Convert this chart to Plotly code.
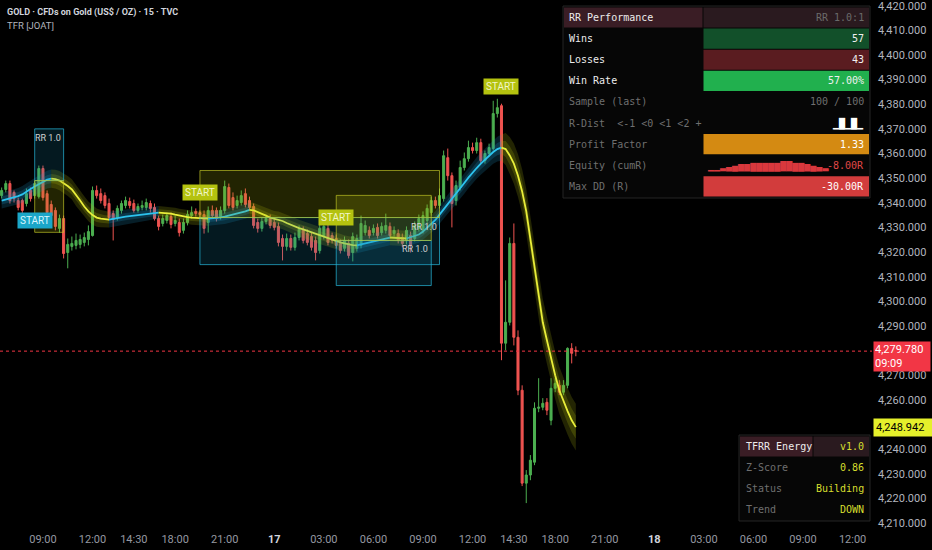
import pandas as pd
import plotly.graph_objects as go

# ---------------- values (GOLD, 15m, TVC) ----------------
first_bar = "2025-12-16 06:30"      # first bar on screen, session pause 17:00-18:00

opens = [
    4342.9, 4345.4, 4347.8, 4344.2, 4340.9, 4340.9, 4339.7, 4345.0, 4342.9, 4342.5,
    4353.9, 4343.7, 4339.3, 4336.9, 4329.6, 4333.6, 4319.8, 4322.3, 4322.7, 4323.1,
    4323.9, 4325.1, 4326.7, 4345.0, 4343.7, 4342.9, 4339.7, 4335.6, 4334.0, 4336.9,
    4338.9, 4340.5, 4339.7, 4336.9, 4338.1, 4338.1, 4339.7, 4338.1, 4333.6, 4331.6,
    4332.8, 4334.4, 4331.6, 4332.0, 4328.8, 4332.0, 4334.8, 4336.5, 4336.0, 4335.2,
    4332.0, 4336.9, 4336.9, 4334.4, 4336.9, 4346.2, 4342.1, 4338.9, 4340.1, 4343.7,
    4340.9, 4338.5, 4332.0, 4329.6, 4332.4, 4333.6, 4332.0, 4330.4, 4325.5, 4322.3,
    4325.5, 4321.9, 4325.9, 4329.2, 4327.5, 4326.3, 4324.7, 4320.6, 4326.3, 4329.6,
    4326.7, 4325.5, 4323.5, 4321.5, 4323.5, 4319.8, 4321.5, 4322.7, 4327.9, 4328.8,
    4327.9, 4330.0, 4327.9, 4328.8, 4330.4, 4327.5, 4327.5, 4325.9, 4324.7, 4326.7,
    4325.5, 4329.6, 4328.8, 4332.8, 4336.0, 4340.9, 4338.9, 4341.7, 4358.3, 4351.0,
    4340.9, 4346.2, 4354.3, 4357.9, 4362.4, 4361.2, 4364.4, 4357.1, 4360.0, 4362.0,
    4376.2, 4379.4, 4283.0, 4291.5, 4323.5, 4285.4, 4263.9, 4226.2, 4229.5, 4234.7,
    4256.6, 4257.0, 4259.0, 4251.7, 4264.7, 4265.9, 4263.1, 4265.9, 4280.9, 4280.1,
]
highs = [
    4346.2, 4349.0, 4349.0, 4345.0, 4342.1, 4341.7, 4345.8, 4346.2, 4349.0, 4355.1,
    4355.1, 4345.0, 4340.9, 4338.1, 4335.2, 4334.8, 4325.5, 4326.3, 4327.5, 4327.1,
    4327.9, 4330.8, 4346.6, 4347.0, 4345.8, 4344.2, 4341.7, 4336.9, 4338.9, 4340.9,
    4342.5, 4342.1, 4341.3, 4339.7, 4340.9, 4341.7, 4340.9, 4339.7, 4334.8, 4335.2,
    4336.0, 4336.0, 4334.8, 4333.6, 4333.6, 4336.9, 4338.5, 4337.7, 4336.9, 4336.9,
    4338.5, 4338.9, 4338.1, 4338.5, 4349.0, 4347.8, 4344.2, 4342.9, 4345.0, 4345.8,
    4342.5, 4339.7, 4333.6, 4334.0, 4335.2, 4335.2, 4333.6, 4332.0, 4327.1, 4327.5,
    4327.1, 4327.9, 4330.8, 4330.4, 4329.2, 4327.9, 4326.3, 4331.2, 4332.0, 4331.2,
    4327.9, 4327.1, 4325.1, 4326.3, 4325.1, 4327.9, 4327.1, 4334.8, 4332.8, 4330.4,
    4331.2, 4331.6, 4332.0, 4335.6, 4332.0, 4330.4, 4329.2, 4327.5, 4330.4, 4328.3,
    4332.4, 4335.2, 4336.5, 4339.3, 4342.5, 4342.5, 4345.8, 4361.2, 4362.0, 4352.3,
    4349.0, 4357.1, 4360.4, 4365.2, 4364.4, 4366.4, 4366.0, 4361.2, 4364.0, 4381.4,
    4382.2, 4380.2, 4308.5, 4325.9, 4331.6, 4288.2, 4265.9, 4231.5, 4237.6, 4259.0,
    4268.8, 4260.7, 4260.7, 4268.8, 4268.8, 4268.0, 4268.0, 4281.3, 4283.0, 4281.7,
]
lows = [
    4341.7, 4344.2, 4339.7, 4340.1, 4336.9, 4335.2, 4338.5, 4340.5, 4341.7, 4341.7,
    4340.9, 4334.8, 4333.6, 4328.8, 4327.9, 4317.4, 4313.4, 4320.6, 4321.1, 4321.5,
    4322.3, 4322.7, 4326.3, 4341.7, 4339.7, 4337.7, 4332.8, 4324.7, 4332.8, 4335.6,
    4337.7, 4337.7, 4336.0, 4336.0, 4336.9, 4336.9, 4336.0, 4332.8, 4328.8, 4330.4,
    4331.6, 4329.6, 4330.4, 4326.3, 4327.5, 4330.8, 4333.6, 4334.4, 4333.6, 4327.5,
    4327.9, 4333.6, 4332.4, 4333.2, 4335.6, 4337.7, 4336.9, 4337.7, 4338.9, 4338.1,
    4336.9, 4329.6, 4327.9, 4328.3, 4331.2, 4329.6, 4328.8, 4322.3, 4316.6, 4320.6,
    4320.6, 4320.6, 4324.7, 4323.5, 4322.7, 4320.6, 4316.6, 4319.4, 4325.1, 4322.7,
    4323.5, 4321.5, 4319.4, 4320.2, 4317.4, 4316.2, 4320.2, 4321.5, 4326.7, 4325.5,
    4326.7, 4325.5, 4326.7, 4327.5, 4325.5, 4326.3, 4323.5, 4321.9, 4323.1, 4319.8,
    4324.3, 4328.3, 4327.5, 4331.6, 4334.8, 4337.7, 4337.7, 4340.5, 4349.0, 4330.0,
    4338.9, 4345.0, 4353.1, 4356.7, 4360.0, 4360.0, 4355.9, 4355.9, 4358.7, 4361.2,
    4374.6, 4276.1, 4280.1, 4290.2, 4282.1, 4261.9, 4225.0, 4218.1, 4227.4, 4233.5,
    4255.0, 4255.8, 4253.8, 4249.7, 4263.1, 4261.9, 4261.9, 4264.7, 4274.8, 4277.7,
]
closes = [
    4345.0, 4347.8, 4340.9, 4341.7, 4338.1, 4336.9, 4343.7, 4341.7, 4347.8, 4353.9,
    4342.1, 4336.0, 4334.8, 4330.4, 4333.6, 4319.4, 4323.1, 4323.5, 4324.7, 4325.1,
    4325.9, 4328.3, 4345.0, 4342.9, 4340.9, 4338.9, 4334.0, 4333.2, 4337.7, 4339.7,
    4340.9, 4338.9, 4336.9, 4338.5, 4338.9, 4340.1, 4337.7, 4333.6, 4330.4, 4333.6,
    4334.8, 4331.2, 4332.8, 4327.9, 4332.0, 4335.2, 4336.0, 4335.6, 4335.2, 4329.6,
    4336.9, 4334.8, 4333.6, 4336.9, 4346.6, 4338.9, 4338.1, 4340.9, 4342.9, 4339.3,
    4338.1, 4330.8, 4329.6, 4332.4, 4333.6, 4330.8, 4330.0, 4323.9, 4322.3, 4325.5,
    4321.9, 4325.9, 4329.2, 4324.7, 4323.9, 4321.9, 4319.8, 4329.6, 4330.4, 4323.9,
    4324.7, 4322.7, 4320.6, 4324.7, 4318.6, 4326.3, 4325.5, 4331.6, 4330.8, 4326.7,
    4329.6, 4326.7, 4330.4, 4330.8, 4326.7, 4328.8, 4324.7, 4323.5, 4328.8, 4322.7,
    4330.8, 4333.6, 4334.8, 4337.7, 4340.9, 4338.9, 4342.9, 4359.1, 4351.0, 4339.7,
    4347.0, 4354.3, 4357.9, 4362.4, 4361.2, 4364.4, 4357.1, 4360.0, 4362.4, 4376.2,
    4378.6, 4283.0, 4291.5, 4323.5, 4285.4, 4263.9, 4226.2, 4229.5, 4235.5, 4256.6,
    4257.0, 4258.6, 4255.8, 4264.7, 4266.7, 4263.1, 4265.9, 4280.9, 4278.9, 4279.78,
]
# TFR trend filter line and its band half-width (price units)
trend = [
    4340.9, 4341.3, 4341.7, 4342.1, 4342.7, 4343.4, 4344.6, 4345.6, 4346.6, 4347.6,
    4348.6, 4349.4, 4349.8, 4349.6, 4349.0, 4348.0, 4346.8, 4345.4, 4342.9, 4340.9,
    4338.5, 4336.5, 4335.0, 4334.0, 4333.6, 4333.3, 4333.2, 4333.4, 4333.8, 4334.1,
    4334.4, 4334.6, 4334.8, 4335.1, 4335.3, 4335.5, 4335.7, 4335.9, 4336.0, 4335.9,
    4335.8, 4335.6, 4335.2, 4334.8, 4334.5, 4334.2, 4334.0, 4333.9, 4333.8, 4333.7,
    4333.6, 4333.7, 4333.9, 4334.1, 4334.4, 4334.8, 4335.2, 4335.6, 4335.9, 4336.5,
    4337.1, 4336.9, 4336.2, 4335.6, 4334.8, 4334.0, 4333.5, 4333.2, 4332.6, 4331.8,
    4331.0, 4330.4, 4329.7, 4329.2, 4328.6, 4328.0, 4327.3, 4326.7, 4326.1, 4325.5,
    4325.0, 4324.5, 4323.9, 4323.5, 4323.1, 4322.8, 4322.7, 4323.1, 4323.5, 4323.9,
    4324.3, 4324.7, 4325.1, 4325.5, 4325.9, 4325.8, 4325.7, 4325.6, 4325.5, 4326.0,
    4326.5, 4327.1, 4328.3, 4329.8, 4331.2, 4333.0, 4335.2, 4337.3, 4339.3, 4341.3,
    4343.5, 4345.8, 4348.0, 4350.2, 4352.3, 4354.1, 4355.9, 4357.5, 4359.2, 4360.6,
    4361.8, 4362.4, 4361.8, 4359.2, 4355.9, 4351.0, 4344.6, 4336.5, 4325.5, 4313.4,
    4301.6, 4291.5, 4284.2, 4276.9, 4270.0, 4263.9, 4259.4, 4255.4, 4251.7, 4248.942,
]
band = [
    3.2, 3.2, 3.3, 3.3, 3.3, 3.4, 3.4, 3.4, 3.5, 3.5,
    3.5, 3.6, 3.7, 3.8, 3.9, 4.0, 4.1, 4.1, 4.2, 4.2,
    4.1, 4.0, 3.9, 3.7, 3.5, 3.3, 3.2, 3.1, 3.0, 2.9,
    2.9, 2.8, 2.8, 2.8, 2.7, 2.7, 2.7, 2.7, 2.7, 2.7,
    2.7, 2.8, 2.8, 2.8, 2.8, 2.8, 2.9, 2.9, 2.9, 2.9,
    2.9, 2.9, 3.0, 3.0, 3.0, 3.0, 3.0, 3.0, 3.0, 3.0,
    3.0, 3.1, 3.1, 3.1, 3.2, 3.2, 3.2, 3.3, 3.3, 3.3,
    3.4, 3.4, 3.4, 3.4, 3.4, 3.5, 3.5, 3.5, 3.5, 3.4,
    3.4, 3.4, 3.3, 3.3, 3.3, 3.3, 3.2, 3.2, 3.2, 3.2,
    3.2, 3.1, 3.1, 3.1, 3.1, 3.1, 3.1, 3.1, 3.1, 3.2,
    3.2, 3.3, 3.3, 3.4, 3.5, 3.6, 3.7, 3.8, 3.9, 4.0,
    4.1, 4.2, 4.3, 4.3, 4.4, 4.4, 4.5, 4.5, 4.6, 4.8,
    5.0, 5.3, 6.5, 7.5, 8.2, 8.7, 9.0, 9.2, 9.3, 9.4,
    9.4, 9.5, 9.5, 9.5, 9.5, 9.5, 9.5, 9.5, 9.5, 9.5,
]

# RR trades (bar numbers, 0 = 16th 09:00)
trade_start = [-2, 38, 71, 111]
trade_end = [5, 96, 94, None]
trade_side = ["long", "short", "short", "short"]
trade_entry = [4349.0, 4334.0, 4324.7, None]
trade_risk = [21.0, 19.1, 18.3, None]
rr = 1.0
countdown = "09:09"

tick_times = ["2025-12-16 09:00", "2025-12-16 12:00", "2025-12-16 14:30", "2025-12-16 18:00",
              "2025-12-16 21:00", "2025-12-17 00:00", "2025-12-17 03:00", "2025-12-17 06:00",
              "2025-12-17 09:00", "2025-12-17 12:00", "2025-12-17 14:30", "2025-12-17 18:00",
              "2025-12-17 21:00", "2025-12-18 00:00", "2025-12-18 03:00", "2025-12-18 06:00",
              "2025-12-18 09:00", "2025-12-18 12:00"]
tick_text = ["09:00", "12:00", "14:30", "18:00", "21:00", "<b><span style='color:#d1d4dc'>17</span></b>",
             "03:00", "06:00", "09:00", "12:00", "14:30", "18:00", "21:00",
             "<b><span style='color:#d1d4dc'>18</span></b>", "03:00", "06:00", "09:00", "12:00"]
price_ticks = list(range(4210, 4421, 10))

# tables
perf_labels = ["RR Performance", "Wins", "Losses", "Win Rate", "Sample (last)",
               "R-Dist\u00a0\u00a0&lt;-1 &lt;0 &lt;1 &lt;2 +", "Profit Factor", "Equity (cumR)", "Max DD (R)"]
wins, losses = 57, 43
sample, sample_max = 100, 100
profit_factor = 1.33
equity_r = -8.0
max_dd = -30.0
r_dist_bars = "▁█▁█▁"
equity_levels = [1, 1, 2, 3, 4, 5, 5, 6, 6, 6, 6, 6, 7, 7, 6, 6, 5, 4, 3, 2]

energy_labels = ["TFRR Energy", "Z-Score", "Status", "Trend"]
energy_values = ["v1.0", "0.86", "Building", "DOWN"]

# ---------------- styling ----------------
UP, DOWN = "#4caf50", "#ef5350"
CYAN, YELLOW = "#2cc3ef", "#e9ee3a"
W, H = 932, 550
PW, PH = 872, 527          # plot area (price scale 60px on the right, time scale 23px)
MONO = "DejaVu Sans Mono"
SANS = "Roboto"

n0 = -10
xs = list(range(n0, n0 + len(opens)))
bars = pd.date_range(first_bar, periods=400, freq="15min")
bars = list(bars[bars.hour != 17])
tickvals = [bars.index(pd.Timestamp(t)) + n0 for t in tick_times]

# scale ticks hidden behind the last-price / trend labels, as on the chart
ytick = [p for p in price_ticks
         if not (closes[-1] - 8 < p < closes[-1] + 4) and abs(p - trend[-1]) > 3]

fig = go.Figure()

# split trend into rising / falling runs
rising = [trend[1] > trend[0]]
for k in range(1, len(trend)):
    d = trend[k] - trend[k - 1]
    rising.append(rising[-1] if d == 0 else d > 0)
rising[0] = rising[1]
runs, s = [], 0
for k in range(1, len(trend) + 1):
    if k == len(trend) or rising[k] != rising[s]:
        runs.append((s, k - 1, rising[s]))
        s = k

for s, e, up in runs:
    idx = list(range(max(s - 1, 0), e + 1))
    xx = [xs[k] for k in idx]
    for frac, alpha in ((1.0, 0.2), (0.5, 0.22)):
        col = f"rgba(30,150,200,{alpha})" if up else f"rgba(175,185,15,{alpha})"
        fig.add_trace(go.Scatter(x=xx, y=[trend[k] + frac * band[k] for k in idx], mode="lines",
                                 line=dict(width=0), hoverinfo="skip", showlegend=False))
        fig.add_trace(go.Scatter(x=xx, y=[trend[k] - frac * band[k] for k in idx], mode="lines",
                                 line=dict(width=0), fill="tonexty", fillcolor=col,
                                 hoverinfo="skip", showlegend=False))

fig.add_trace(go.Candlestick(
    x=xs, open=opens, high=highs, low=lows, close=closes, whiskerwidth=0,
    increasing=dict(line=dict(color=UP, width=1), fillcolor=UP),
    decreasing=dict(line=dict(color=DOWN, width=1), fillcolor=DOWN),
    hoverinfo="skip", showlegend=False))

for s, e, up in runs:
    idx = list(range(max(s - 1, 0), e + 1))
    fig.add_trace(go.Scatter(x=[xs[k] for k in idx], y=[trend[k] for k in idx], mode="lines",
                             line=dict(color=CYAN if up else YELLOW, width=1.8),
                             hoverinfo="skip", showlegend=False))

# RR boxes + labels
for s, e, side, entry, risk in zip(trade_start, trade_end, trade_side, trade_entry, trade_risk):
    long_side = side == "long"
    if e is not None:
        sgn = 1 if long_side else -1
        target = entry + sgn * risk * rr
        stop = entry - sgn * risk
        fig.add_shape(type="rect", x0=s, x1=e, y0=entry, y1=target, layer="above",
                      line=dict(color="rgba(40,185,220,0.7)", width=1), fillcolor="rgba(20,140,180,0.18)")
        fig.add_shape(type="rect", x0=s, x1=e, y0=entry, y1=stop, layer="above",
                      line=dict(color="rgba(200,205,40,0.65)", width=1), fillcolor="rgba(170,180,10,0.2)")
        fig.add_annotation(x=e, y=max(entry, target), text=f"RR {rr:.1f}", showarrow=False,
                           xanchor="right", yanchor="top", xshift=-1, yshift=-2,
                           font=dict(family=SANS, size=9, color="#d0d0d0"))
    k = s - n0
    if long_side:
        fig.add_annotation(x=s, y=lows[k], yanchor="top", yshift=-13, text="START", showarrow=False,
                           bgcolor="#1ba6c8", borderpad=2, font=dict(family=SANS, size=10, color="#d8f6ff"))
    else:
        fig.add_annotation(x=s, y=highs[k], yanchor="bottom", yshift=9, text="START", showarrow=False,
                           bgcolor="#b4c20f", borderpad=2, font=dict(family=SANS, size=10, color="#f2f6c8"))

# last price line + scale labels
fig.add_shape(type="line", xref="paper", x0=0, x1=1, y0=closes[-1], y1=closes[-1],
              line=dict(color="#f23645", width=1, dash="dot"))
fig.add_annotation(xref="paper", x=1, xanchor="left", xshift=1, y=closes[-1], yanchor="top", yshift=10,
                   text=f"{closes[-1]:,.3f}<br>{countdown}", align="left", showarrow=False,
                   bgcolor="#f23645", borderpad=1, width=54,
                   font=dict(family=SANS, size=11, color="#ffffff"))
fig.add_annotation(xref="paper", x=1, xanchor="left", xshift=1, y=trend[-1], yanchor="middle",
                   text=f"{trend[-1]:,.3f}", align="left", showarrow=False,
                   bgcolor="#e5f02b", borderpad=2, width=54,
                   font=dict(family=SANS, size=11, color="#000000"))


def rect(x0, y0, x1, y1, fill, line=None):
    fig.add_shape(type="rect", xref="paper", yref="paper", x0=x0 / PW, x1=x1 / PW,
                  y0=1 - y1 / PH, y1=1 - y0 / PH, fillcolor=fill, layer="above",
                  line=dict(color=line or fill, width=1 if line else 0))


def text(x, y, s, color, anchor="left", size=10, family=MONO):
    fig.add_annotation(xref="paper", yref="paper", x=x / PW, y=1 - y / PH, text=s, showarrow=False,
                       xanchor=anchor, yanchor="middle", font=dict(family=family, size=size, color=color))


# RR performance table
perf_values = [f"RR {rr:.1f}:1", str(wins), str(losses), f"{100 * wins / (wins + losses):.2f}%",
               f"{sample} / {sample_max}", r_dist_bars, f"{profit_factor:.2f}",
               f"{equity_r:.2f}R", f"{max_dd:.2f}R"]
lab_bg = ["#3a1d25", None, None, None, None, None, None, None, None]
val_bg = ["#2a1a1f", "#12502a", "#5a1c20", "#21b04e", None, None, "#d48a12", None, "#d23c3c"]
lab_col = ["#ececec"] * 4 + ["#6f6f6f"] * 5
val_col = ["#6a6a6a", "#f0f0f0", "#f0f0f0", "#f0f0f0", "#6f6f6f", "#ffffff", "#ffffff", "#e04848", "#ffffff"]
top, row = 7, 21.1
rect(563, 6, 870, 198, "#060606", "#242424")
for r, (lab, val) in enumerate(zip(perf_labels, perf_values)):
    y0, y1 = top + r * row, top + (r + 1) * row
    if lab_bg[r]:
        rect(564, y0 + 0.5, 702.5, y1 - 0.5, lab_bg[r])
    if val_bg[r]:
        rect(703.5, y0 + 0.5, 869, y1 - 0.5, val_bg[r])
    text(567, (y0 + y1) / 2, lab, lab_col[r])
    text(866, (y0 + y1) / 2, val, val_col[r], anchor="right")
blocks = " ▁▂▃▄▅▆▇█"
text(705, top + 7.5 * row + 1, "".join(blocks[v] for v in equity_levels), "#d9383d")

# TFRR energy table
top2, row2 = 436, 21
rect(739, 435, 870, 521, "#060606", "#242424")
for r, (lab, val) in enumerate(zip(energy_labels, energy_values)):
    y0, y1 = top2 + r * row2, top2 + (r + 1) * row2
    if r == 0:
        rect(740, y0 + 0.5, 812.5, y1 - 0.5, "#3a1d25")
        rect(813.5, y0 + 0.5, 869, y1 - 0.5, "#2a1a1f")
    text(744, (y0 + y1) / 2, lab, "#ececec" if r == 0 else "#6f6f6f")
    text(866, (y0 + y1) / 2, val, "#d6de2e", anchor="right")

# legend header
text(5, 13, "<b>GOLD · CFDs on Gold (US$ / OZ) · 15 · TVC</b>", "#d1d4dc", size=9, family=SANS)
text(5, 26, "TFR [JOAT]", "#b2b5be", size=9.5, family=SANS)

fig.update_layout(
    width=W, height=H, margin=dict(l=0, r=W - PW, t=0, b=H - PH),
    paper_bgcolor="#000000", plot_bgcolor="#000000",
    showlegend=False, hovermode=False,
    xaxis=dict(range=[-10.4, 200.7], rangeslider=dict(visible=False), showgrid=False,
               zeroline=False, showline=False, ticks="", tickvals=tickvals, ticktext=tick_text,
               ticklabelstandoff=4,
               tickfont=dict(family=SANS, size=11, color="#9598a1")),
    yaxis=dict(side="right", range=[4208.4, 4422.3], tickvals=ytick, tickformat=",.3f", showgrid=False,
               zeroline=False, showline=False, ticks="", ticklabelstandoff=5,
               ticklabeloverflow="allow",
               tickfont=dict(family=SANS, size=11, color="#b2b5be")),
)

# page body has a default 8px margin; drop it so the chart fills the window
fig.write_html("out.html", config={"displayModeBar": False},
               post_script="document.body.style.margin='0px';"
                           "document.body.style.background='#000';")
